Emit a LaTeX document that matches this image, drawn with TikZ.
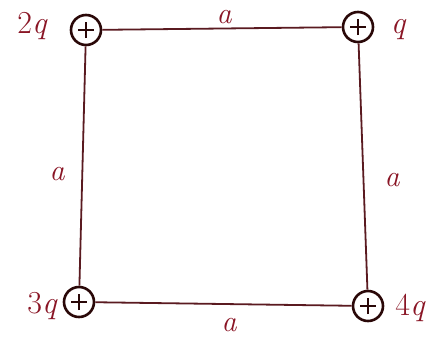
\documentclass[tikz,border=0pt]{standalone}
\usepackage{tikz}
\definecolor{edgec}{HTML}{5A1A20}
\definecolor{chgc}{HTML}{2A0808}
\definecolor{txtc}{HTML}{8A1525}
\begin{document}
\begin{tikzpicture}[x=1pt,y=-1pt,
  charge/.style={circle, draw=chgc, fill=white, line width=2.6pt, minimum size=30pt, inner sep=0pt,
    path picture={\draw[chgc,line width=2.2pt] ([xshift=-8pt]path picture bounding box.center) -- ([xshift=8pt]path picture bounding box.center);
                  \draw[chgc,line width=2.2pt] ([yshift=-8pt]path picture bounding box.center) -- ([yshift=8pt]path picture bounding box.center);}},
  edge/.style={draw=edgec, line width=1.8pt},
  lbl/.style={text=txtc, font=\fontsize{32}{34}\selectfont\itshape, inner sep=0pt},
  side/.style={text=txtc, font=\fontsize{30}{32}\selectfont\itshape, inner sep=0pt}]
\useasboundingbox[fill=white] (0,0) rectangle (430,338);
\node[charge] (tl) at (86,30) {};
\node[charge] (tr) at (358,27) {};
\node[charge] (bl) at (79,302) {};
\node[charge] (br) at (368,306) {};
\draw[edge] (tl) -- (tr);
\draw[edge] (tr) -- (br);
\draw[edge] (br) -- (bl);
\draw[edge] (bl) -- (tl);
\node[lbl, anchor=base] (q2) at (32,33) {{\upshape 2}q};
\node[lbl, anchor=base] (q1) at (398,33) {q};
\node[lbl, anchor=base] (q3) at (42,313) {{\upshape 3}q};
\node[lbl, anchor=base] (q4) at (410,315) {{\upshape 4}q};
\node[side, anchor=base] (at) at (224,23) {a};
\node[side, anchor=base] (ab) at (229,331) {a};
\node[side, anchor=base] (al) at (57,180) {a};
\node[side, anchor=base] (ar) at (392,186) {a};
\end{tikzpicture}
\end{document}
